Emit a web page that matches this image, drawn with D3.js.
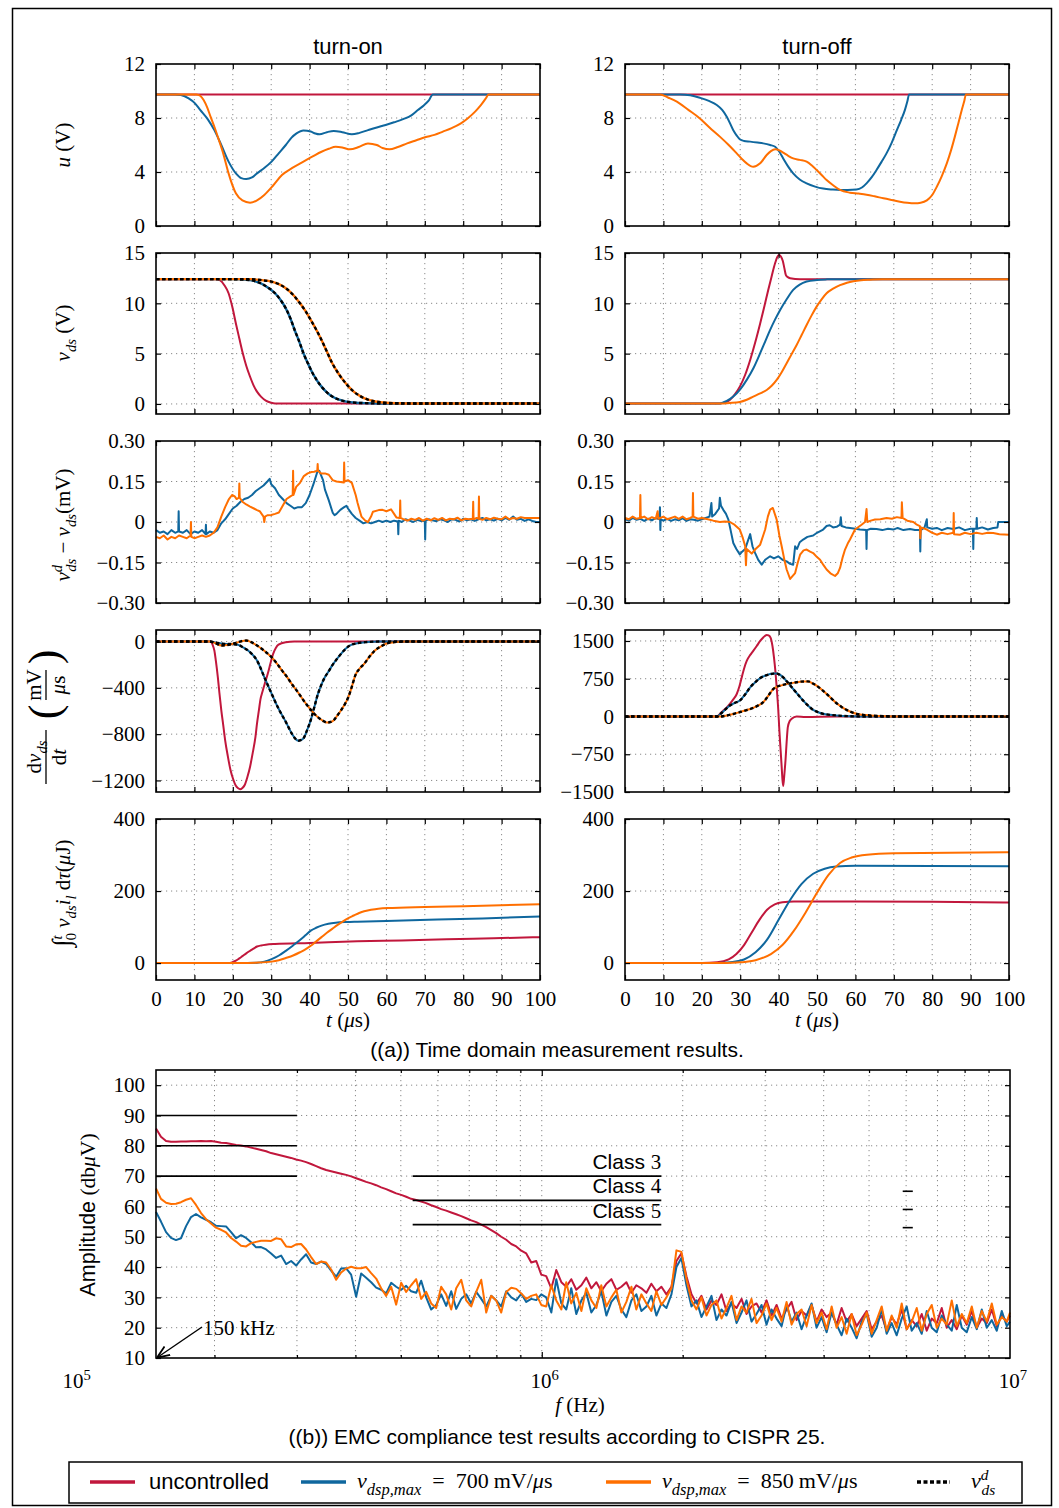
<!DOCTYPE html>
<html>
<head>
<meta charset="utf-8">
<script src="https://cdn.jsdelivr.net/npm/d3@7"></script>
<style>
  body { margin: 0; background: #fff; }
  .grid { stroke: #8a8a8a; stroke-width: 1; stroke-dasharray: 1.2,3.8; }
</style>
</head>
<body>
<div id="viz"></div>
<script>
// size of the page
const width = 1059;
const height = 1508;

const serif = '"Liberation Serif","DejaVu Serif",serif';
const sans = '"Liberation Sans","DejaVu Sans",Arial,sans-serif';
const red = "#c1173c", blue = "#0f679e", orange = "#ff6f00";

// ---------------- data ----------------
// time axis ticks (µs)
const tTicks = [0, 10, 20, 30, 40, 50, 60, 70, 80, 90, 100];

// row 1: gate voltage u (V)
const uOnRed = [[0,9.75],[100,9.75]];
const uOnBlue = [[0,9.75],[5,9.75],[6.5,9.7],[8.5,9.45],[10.1,9.1],[11.5,8.6],[13.5,7.9],[15.2,7.1],[17,6.0],[18.9,4.77],[20.8,3.9],[22.2,3.55],[23.5,3.48],[25,3.6],[26.3,3.9],[28.2,4.3],[30.1,4.77],[32,5.4],[33.8,6.0],[35.3,6.55],[36.6,6.86],[38.4,7.08],[40.3,7.0],[41.5,6.85],[42.6,6.79],[44.5,6.95],[46.3,7.04],[48.5,6.95],[51,6.79],[53,6.9],[55.2,7.1],[57.5,7.3],[59.8,7.48],[62,7.68],[64.5,7.93],[66.5,8.2],[68.2,8.59],[69.8,8.95],[71,9.28],[72.1,9.75],[100,9.75]];
const uOnOrange = [[0,9.75],[10.5,9.75],[11.5,9.65],[12.4,9.33],[13.3,8.8],[14.2,8.1],[15.2,7.35],[16.1,6.6],[17.5,5.38],[18.9,3.9],[20.8,2.42],[22.5,1.9],[24.5,1.73],[26.3,1.9],[28.2,2.3],[30.5,3.0],[32.8,3.78],[35.5,4.3],[38.4,4.77],[40.8,5.15],[43.1,5.5],[45,5.72],[46.8,5.87],[48.7,5.8],[50.5,5.68],[52.8,5.85],[55.2,6.12],[57.5,6.0],[59,5.78],[60.8,5.68],[63,5.85],[65.4,6.12],[67.8,6.35],[70.1,6.57],[72.5,6.75],[74.7,6.99],[77,7.25],[79.4,7.6],[81.3,8.0],[83.1,8.47],[84.6,8.95],[85.9,9.46],[86.6,9.75],[100,9.75]];
const uOffRed = [[0,9.75],[100,9.75]];
const uOffBlue = [[0,9.75],[14.3,9.75],[17,9.68],[19.5,9.5],[22,9.25],[23.9,8.96],[25.3,8.6],[26.5,8.1],[28.2,7.1],[29.1,6.7],[29.9,6.42],[31,6.3],[32.6,6.25],[34.5,6.18],[36,6.12],[37.8,6.0],[39.1,5.87],[40.2,5.5],[41.2,5.0],[42.5,4.4],[43.8,3.9],[45.5,3.45],[47.3,3.16],[49.5,2.92],[51.6,2.77],[54,2.7],[56,2.67],[58,2.67],[60.3,2.7],[61.7,2.85],[62.9,3.16],[64.2,3.6],[65.5,4.15],[66.8,4.75],[68.1,5.38],[69.5,6.2],[70.8,7.1],[71.9,7.85],[72.9,8.6],[73.5,9.2],[74,9.75],[100,9.75]];
const uOffOrange = [[0,9.75],[9.1,9.75],[11.3,9.5],[13.5,9.21],[16.5,8.6],[19.5,7.97],[22,7.3],[24.7,6.62],[27,6.0],[29.1,5.38],[30.5,4.95],[31.7,4.64],[33.4,4.39],[35.2,4.64],[36.9,5.26],[38,5.55],[39.1,5.68],[40.2,5.6],[41.2,5.43],[42.5,5.2],[43.8,5.01],[45.5,4.9],[47.3,4.77],[48.6,4.5],[49.9,4.15],[51.2,3.78],[52.5,3.4],[54.3,3.0],[56,2.67],[58.6,2.47],[60.8,2.4],[62.9,2.32],[65,2.2],[67.3,2.05],[69.5,1.92],[71.6,1.8],[73.5,1.72],[75.5,1.68],[77,1.72],[78.6,1.9],[80,2.3],[81.2,2.91],[82.5,3.7],[83.8,4.64],[84.9,5.6],[85.9,6.62],[86.8,7.6],[87.7,8.6],[88.3,9.2],[88.8,9.75],[100,9.75]];

// row 2: v_ds (V)
const vdsOnRed = [[0,12.4],[15.5,12.4],[16.6,12.3],[17.8,11.8],[18.9,11.0],[19.9,9.6],[20.8,8.0],[21.7,6.5],[22.6,5.04],[23.5,3.8],[24.5,2.7],[25.4,1.85],[26.3,1.22],[27.4,0.7],[28.6,0.33],[30,0.12],[31,0.05],[100,0.05]];
const vdsOnBlue = [[0,12.4],[19,12.4],[24.5,12.3],[26.5,12.1],[28.2,11.8],[29.6,11.45],[31,11.0],[32.4,10.35],[33.8,9.5],[35,8.5],[36.1,7.35],[37.3,6.2],[38.4,5.04],[39.6,4.0],[40.8,3.05],[41.9,2.35],[43.1,1.72],[44.5,1.15],[45.9,0.73],[47.7,0.42],[49.6,0.23],[52,0.12],[54.2,0.08],[58,0.05],[100,0.05]];
const vdsOnOrange = [[0,12.4],[24.5,12.4],[27.5,12.3],[30.1,12.15],[32,11.9],[33.8,11.5],[35.7,10.85],[37.5,10.0],[38.9,9.25],[40.3,8.35],[41.7,7.4],[43.1,6.36],[44.5,5.2],[45.9,4.05],[47.3,3.15],[48.7,2.39],[50.1,1.75],[51.5,1.22],[53.3,0.75],[55.2,0.43],[57.5,0.22],[59.8,0.12],[63,0.07],[67,0.05],[100,0.05]];
const vdsOffRed = [[0,0.05],[24.7,0.05],[26,0.15],[27.3,0.4],[28.6,0.95],[29.9,1.72],[31.3,2.9],[32.6,4.37],[33.9,6.1],[35.2,8.0],[36.3,9.7],[37.3,11.33],[38.2,12.7],[39.1,14.0],[39.6,14.55],[40.1,14.8],[40.6,14.65],[41.1,14.2],[41.5,13.5],[41.9,12.8],[42.4,12.6],[43,12.5],[45.6,12.4],[100,12.4]];
const vdsOffBlue = [[0,0.05],[24.7,0.05],[26.5,0.3],[28.2,0.73],[30,1.45],[31.7,2.39],[33.5,3.6],[35.2,5.04],[36.5,6.2],[37.8,7.36],[39.1,8.4],[40.4,9.34],[42.1,10.4],[43.8,11.33],[45.5,11.85],[47.3,12.16],[50,12.32],[52.5,12.38],[55,12.4],[100,12.4]];
const vdsOffOrange = [[0,0.05],[24.7,0.05],[27.3,0.1],[29.9,0.2],[31.7,0.42],[33.4,0.73],[35.2,1.05],[36.9,1.39],[38.2,1.8],[39.5,2.39],[40.8,3.15],[42.1,4.05],[43.4,4.95],[44.7,5.86],[46,6.85],[47.3,7.85],[48.6,8.8],[49.9,9.67],[51.2,10.4],[52.5,11.0],[54.2,11.45],[56,11.8],[57.8,12.05],[59.5,12.2],[61.5,12.3],[63.8,12.35],[67,12.4],[100,12.4]];
// reference v^d_ds lies on top of the measured curves
const vdsOnRef700 = vdsOnBlue;
const vdsOnRef850 = vdsOnOrange;

// row 3: v^d_ds - v_ds (mV)
const diffOnBlue = [[0,-0.03],[1,-0.04],[2,-0.035],[3,-0.045],[4,-0.03],[5,-0.04],[5.8,-0.035],[5.9,0.04],[6,-0.035],[7,-0.04],[8,-0.03],[9,-0.045],[10,-0.035],[11,-0.04],[12,-0.03],[12.9,-0.045],[13,-0.01],[13.1,-0.045],[14,-0.035],[15,-0.04],[16,-0.03],[17,-0.005],[18,0.01],[19,0.03],[20,0.05],[21,0.06],[22,0.075],[23,0.085],[24,0.09],[25,0.1],[26,0.115],[27,0.125],[28,0.135],[29,0.15],[29.6,0.16],[30,0.14],[31,0.125],[32,0.1],[33,0.085],[34,0.07],[35,0.06],[36,0.05],[37,0.055],[38,0.055],[39,0.07],[40,0.1],[41,0.14],[42,0.185],[42.5,0.19],[43.5,0.155],[44,0.12],[45,0.08],[46,0.035],[46.5,0.025],[47,0.03],[48,0.045],[49,0.055],[49.6,0.06],[50,0.05],[51,0.03],[52,0.015],[53,0.005],[54,-0.005],[55,0],[56,-0.005],[57,0],[58,0.005],[59,0],[60,0.005],[61,0],[62,0.005],[63,0.002],[63.1,-0.045],[63.2,0.005],[64,0],[65,0.01],[66,0.005],[67,0],[68,0.008],[69,0.004],[70,0.005],[70.1,-0.065],[70.2,0.005],[71,0.01],[72,0.006],[73,0.003],[74,0.01],[75,0.006],[76,0],[77,0.01],[78,0.008],[79,0.002],[80,0.012],[81,0.006],[82,0.01],[83,0.004],[84,0.01],[85,0.015],[86,0.006],[87,0.01],[88,0.005],[89,0.012],[90,0.006],[91,0.015],[92,0.008],[93,0.02],[94,0.008],[95,0.012],[96,0.004],[97,0.01],[98,0.004],[99,0],[100,0]];
const diffOnOrange = [[0,-0.055],[1,-0.06],[2,-0.05],[3,-0.065],[4,-0.055],[5,-0.06],[6,-0.05],[7,-0.055],[8,-0.06],[9,-0.05],[9.1,0],[9.2,-0.055],[10,-0.06],[11,-0.055],[12,-0.05],[13,-0.055],[14,-0.05],[15,-0.04],[16,-0.02],[17,0.02],[18,0.055],[19,0.085],[19.8,0.1],[20.5,0.095],[21,0.085],[21.6,0.09],[21.7,0.143],[21.8,0.09],[22.5,0.075],[23.5,0.065],[24.5,0.057],[25.5,0.05],[26.3,0.044],[27,0.04],[28,0.02],[28.2,0],[28.4,0.02],[29,0.025],[30,0.026],[31,0.03],[32,0.035],[33,0.06],[34,0.085],[35,0.095],[35.6,0.1],[35.7,0.19],[35.8,0.1],[36.5,0.13],[37.5,0.145],[38.5,0.17],[39.5,0.18],[40.5,0.185],[41.2,0.186],[42,0.19],[42.1,0.215],[42.2,0.19],[43,0.18],[44,0.18],[45,0.175],[46,0.155],[47,0.15],[48,0.148],[48.9,0.146],[49,0.22],[49.1,0.15],[50,0.155],[51,0.145],[52,0.1],[52.5,0.07],[53.5,0.02],[54.5,0.005],[55.2,0],[56,0.02],[56.5,0.038],[58,0.044],[59,0.045],[60,0.04],[61.2,0.047],[62,0.03],[62.6,0.017],[63.5,0.015],[63.6,0.08],[63.7,0.015],[64.5,0.01],[65.5,0.005],[66.5,0.012],[67.5,0.008],[68.5,0.015],[69.5,0.005],[70.5,0.012],[71.5,0.006],[72.5,0.014],[73.5,0.008],[74.5,0.015],[75.5,0.006],[76.5,0.012],[77.5,0.01],[78.5,0.016],[79.5,0.006],[80.5,0.012],[81.5,0.01],[82.5,0.012],[82.6,0.075],[82.7,0.01],[83.5,0.015],[84,0.012],[84.1,0.094],[84.2,0.012],[85,0.008],[86,0.015],[87,0.01],[88,0.016],[89,0.012],[90,0.01],[91,0.02],[92,0.01],[93,0.015],[94,0.012],[95,0.018],[96,0.015],[97,0.015],[98,0.015],[100,0.015]];
const diffOffBlue = [[0,0.01],[1,0.005],[2,0.015],[3,0.008],[4,0.012],[5,0.004],[6,0.012],[7,0.006],[8,0.015],[9,0.01],[9.1,0.055],[9.2,-0.03],[9.3,0.01],[10,0.005],[11,0.012],[12,0.004],[13,0.01],[14,0.006],[15,0.014],[16,0.004],[17,0.01],[18,0.008],[19,0.005],[20,0.01],[21,0.015],[22,0.02],[22.5,0.07],[22.7,0.02],[23.5,0.03],[24.5,0.05],[24.7,0.09],[25,0.06],[25.6,0.045],[26.3,0.03],[26.9,0.01],[27.5,-0.03],[28.2,-0.078],[29,-0.1],[29.9,-0.12],[30.5,-0.11],[31.3,-0.1],[32,-0.07],[32.6,-0.045],[33.2,-0.09],[33.9,-0.115],[34.7,-0.14],[35.6,-0.158],[36.5,-0.14],[37.8,-0.127],[38.8,-0.135],[39.9,-0.127],[41,-0.14],[42.1,-0.146],[43,-0.155],[43.8,-0.158],[44.3,-0.09],[44.8,-0.1],[45.5,-0.075],[46.4,-0.065],[47.5,-0.055],[49,-0.05],[50,-0.04],[51.6,-0.028],[52.5,-0.015],[53.3,-0.012],[54.2,-0.02],[55.1,-0.018],[56,-0.01],[56.2,0.018],[56.4,-0.015],[57.5,-0.02],[58.6,-0.022],[60,-0.025],[61.2,-0.028],[62.8,-0.03],[62.9,-0.1],[63,-0.03],[64,-0.025],[65.5,-0.026],[67,-0.03],[68.5,-0.025],[69.9,-0.028],[71,-0.022],[72.5,-0.03],[74.2,-0.026],[75.5,-0.03],[76.8,-0.03],[76.9,-0.109],[77,-0.03],[78,-0.02],[78.6,0.01],[78.7,-0.02],[80,-0.025],[81.2,-0.022],[82.5,-0.03],[84,-0.022],[85.5,-0.026],[87,-0.02],[88.5,-0.03],[90,-0.025],[90.6,-0.025],[90.7,-0.1],[90.8,-0.025],[91.5,-0.025],[91.6,0.015],[91.7,-0.025],[93,-0.02],[94.5,-0.028],[95.9,-0.022],[97,-0.02],[97.2,0],[100,0]];
const diffOffOrange = [[0,0.015],[1,0.01],[2,0.02],[3,0.012],[3.9,0.015],[4,0.1],[4.1,0.015],[5,0.02],[6,0.01],[7,0.018],[8,0.012],[8.5,0.04],[8.7,0.012],[10,0.02],[11,0.01],[12,0.015],[13,0.02],[14,0.012],[15,0.02],[16,0.01],[17,0.015],[17.6,0.02],[17.7,0.107],[17.8,0.02],[19,0.012],[20,0.015],[21.3,0.011],[23,0.005],[24.7,0],[26,0.002],[27.3,0],[28.5,-0.01],[29.9,-0.028],[30.7,-0.06],[31.3,-0.09],[31.5,-0.16],[31.7,-0.1],[33,-0.117],[34,-0.1],[35.2,-0.084],[36.5,-0.028],[37.2,0.02],[37.8,0.046],[38.5,0.052],[39.5,0.009],[40.2,-0.05],[40.8,-0.09],[41.5,-0.14],[42.1,-0.176],[43,-0.211],[44.3,-0.189],[45,-0.15],[45.6,-0.121],[46.5,-0.105],[47.3,-0.102],[48.2,-0.11],[49,-0.115],[50,-0.13],[50.8,-0.14],[51.7,-0.16],[52.5,-0.176],[53.5,-0.19],[54.7,-0.2],[55.4,-0.19],[56,-0.17],[56.7,-0.13],[57.3,-0.102],[58,-0.08],[58.6,-0.065],[59.9,-0.028],[61.6,-0.01],[62.5,0],[62.9,0.048],[63.1,0],[64,0.005],[65.1,0.009],[66.5,0.01],[68.1,0.015],[69.5,0.012],[70.8,0.018],[72,0.015],[72.1,0.073],[72.3,0.015],[73.5,0.005],[75.1,0],[76,-0.01],[76.8,-0.015],[76.9,-0.06],[77.1,-0.02],[78.6,-0.028],[80,-0.04],[81.2,-0.047],[82.5,-0.04],[84,-0.045],[85.5,-0.04],[85.6,0.033],[85.7,-0.045],[87.2,-0.047],[88.5,-0.04],[90,-0.045],[91.5,-0.04],[93,-0.044],[94.5,-0.04],[95.9,-0.041],[97.5,-0.045],[100,-0.047]];

// row 4: dv_ds/dt (mV/µs)
const dvOnRed = [[0,0],[14.2,0],[14.7,-25],[15.2,-77],[15.6,-170],[16.1,-307],[16.5,-440],[17,-593],[17.5,-720],[18,-851],[18.7,-990],[19.4,-1110],[20.1,-1190],[20.8,-1247],[21.4,-1268],[21.9,-1276],[22.5,-1265],[23.1,-1239],[23.8,-1170],[24.5,-1081],[25.2,-960],[25.9,-823],[26.3,-710],[26.8,-593],[27.2,-500],[27.7,-436],[28.4,-355],[29.1,-278],[29.8,-190],[30.5,-106],[31.2,-55],[31.9,-26],[33.8,-6],[36,0],[100,0]];
const dvOnBlue = [[0,0],[14,0],[16,-12],[18,-20],[20,-22],[21.5,-30],[22.6,-49],[24.5,-92],[26.3,-163],[28.2,-307],[30.1,-450],[31.9,-579],[33.8,-694],[35.6,-808],[36.3,-840],[37,-857],[37.7,-852],[38.4,-837],[39.3,-770],[40.3,-679],[41.2,-570],[42.2,-450],[43.1,-370],[44,-307],[45,-255],[45.9,-206],[47,-155],[48.2,-106],[49.3,-65],[50.5,-34],[52.4,-14],[55,-4],[58,0],[100,0]];
const dvOnOrange = [[0,0],[14,0],[15.5,-15],[17,-34],[18.5,-30],[20.8,-12],[22.5,5],[23.5,9],[24.8,-5],[26.3,-34],[28.2,-80],[30.1,-135],[31.5,-190],[32.8,-249],[34.2,-310],[35.6,-378],[37,-440],[38.4,-507],[39.6,-560],[40.8,-608],[41.7,-640],[42.6,-665],[43.5,-685],[44.5,-700],[45.4,-695],[46.3,-679],[47.2,-640],[48.2,-593],[49.2,-540],[50.1,-479],[51,-390],[51.9,-292],[53,-235],[54.2,-192],[55.6,-130],[57,-77],[58.4,-45],[59.8,-20],[62.6,-3],[65,0],[100,0]];
const dvOffRed = [[0,0],[23.9,0],[24.7,50],[25.6,118],[26.5,180],[27.3,250],[28.2,340],[29.1,447],[29.8,600],[30.4,776],[31,950],[31.7,1105],[32.5,1210],[33.4,1303],[34.3,1400],[35.2,1500],[36,1570],[36.9,1619],[37.4,1610],[37.9,1566],[38.4,1400],[38.8,1171],[39.2,870],[39.5,579],[39.9,150],[40.2,-276],[40.5,-640],[40.8,-1000],[41,-1250],[41.2,-1382],[41.5,-1150],[41.8,-869],[42.1,-500],[42.4,-210],[42.9,-90],[43.4,-46],[44.7,0],[47,-8],[55,0],[100,0]];
const dvOffBlue = [[0,0],[24,0],[24.7,40],[26,130],[27.3,217],[28.6,270],[29.9,316],[31.3,440],[32.6,579],[33.9,680],[35.2,763],[36.5,810],[37.8,842],[38.7,852],[39.5,855],[40.4,825],[41.2,776],[42.5,665],[43.8,546],[45.1,430],[46.4,316],[47.7,215],[49,132],[50.3,85],[51.6,53],[53.3,33],[55.1,20],[58.6,5],[62,0],[100,0]];
const dvOffOrange = [[0,0],[25,0],[26.5,20],[28.2,50],[29.9,86],[31.7,128],[33.4,171],[34.7,220],[36,283],[37.3,410],[38.6,546],[39.5,590],[40.4,612],[41.7,638],[43,658],[44.3,675],[45.6,691],[46.6,696],[47.7,697],[48.8,660],[49.9,612],[51.2,535],[52.5,447],[53.8,355],[55.1,263],[56.4,190],[57.7,132],[59,85],[60.3,53],[62,33],[63.8,20],[66,10],[68.1,5],[72,0],[100,0]];

// row 5: switching energy (µJ)
const eOnRed = [[0,0],[18.9,0],[19.8,2],[20.8,6.5],[21.7,13],[22.6,20],[23.5,27],[24.5,34],[25.4,40],[26.3,46],[27.4,49],[28.6,51],[31,53],[40,56],[52.4,60.5],[64,63],[75.7,66],[88,69],[100,72]];
const eOnBlue = [[0,0],[20,0],[23,0.3],[26.3,1],[28.2,4],[30.1,11],[32,21],[33.8,34],[35.7,49],[37.5,64],[38.9,77],[40.3,90],[41.7,98],[43.1,104],[44.9,109],[46.8,112],[49.6,114],[52.4,115],[60,117],[71,120],[85,124],[100,129]];
const eOnOrange = [[0,0],[22,0],[26,1],[30.1,4],[32,8],[33.8,14],[35.7,21],[37.5,30],[38.9,38],[40.3,48],[41.7,60],[43.1,72],[44.5,84],[45.9,95],[47.3,106],[48.7,116],[50.1,125],[51.5,132],[52.9,139],[54.2,144],[56,148],[57.9,151],[61.6,153],[70,156],[80.3,158],[100,163]];
const eOffRed = [[0,0],[20,0],[24,2],[27,10],[29,25],[31,50],[33,85],[35,120],[37,148],[39,163],[41,169],[44,171],[60,171],[80,170],[100,168]];
const eOffBlue = [[0,0],[24,0],[28,3],[31,10],[34,30],[37,65],[40,120],[43,175],[46,220],[49,248],[52,262],[55,268],[60,270],[100,269]];
const eOffOrange = [[0,0],[26,0],[30,2],[34,8],[38,25],[41,50],[44,90],[47,140],[50,195],[53,245],[56,278],[59,293],[63,301],[70,305],[100,308]];

// EMC spectrum: frequency (kHz) and amplitudes (dBµV)
const emcFreq = [150,153.7,157.6,161.5,165.5,169.6,173.9,178.2,182.6,187.2,191.9,196.6,201.5,206.6,211.7,217.0,222.4,227.9,233.6,239.4,245.4,251.5,257.8,264.2,270.8,277.5,284.4,291.5,298.8,306.2,313.8,321.6,329.7,337.9,346.3,354.9,363.8,372.8,382.1,391.6,401.4,411.4,421.6,432.1,442.9,453.9,465.2,476.8,488.7,500.9,513.3,526.1,539.2,552.7,566.4,580.5,595.0,609.8,625.0,640.6,656.5,672.9,689.6,706.8,724.4,742.5,761.0,779.9,799.3,819.2,839.6,860.6,882.0,904.0,926.5,949.6,973.2,997.5,1022,1048,1074,1101,1128,1156,1185,1215,1245,1276,1308,1340,1374,1408,1443,1479,1516,1554,1592,1632,1673,1714,1757,1801,1846,1892,1939,1987,2037,2088,2140,2193,2248,2304,2361,2420,2480,2542,2606,2671,2737,2805,2875,2947,3020,3096,3173,3252,3333,3416,3501,3588,3678,3769,3863,3960,4058,4160,4263,4369,4478,4590,4704,4822,4942,5065,5191,5321,5453,5589,5728,5871,6017,6167,6321,6478,6640,6805,6975,7148,7326,7509,7696,7888,8084,8286,8492,8704,8920,9143,9370,9604,9843,10000];
const emcRed = [85.7,83,81.6,81.3,81.3,81.4,81.4,81.5,81.5,81.6,81.5,81.6,81.3,81,80.9,80.6,80.3,80.1,79.8,79.4,79,78.6,78.2,77.6,77.2,76.8,76.4,76,75.5,75.1,74.6,74,73.3,72.6,72,71.6,71.2,70.8,70.4,69.9,69.3,68.7,68.1,67.6,67,66.3,65.7,65,64.3,63.8,63.2,62.5,62.1,61.6,61.1,60.4,59.8,59.1,58.6,58,57.4,56.8,56.1,55.4,54.8,54,53.2,52.2,51.2,50,49,47.6,46.8,45.4,44.5,41.5,42,37.5,
  37,33,39,35,33.5,36,32.5,34,36.5,33,35,32,34.5,36,32.5,33.5,35,31.5,34,33,31.5,34.5,32,33.5,31,33.5,
  42,44.5,37,31,
  28,30.5,26,29,27.5,31,25.5,28,26.5,29.5,24.5,27,28,25,29,24,27.5,23,26,28.5,22.5,25.5,24,27.5,22,26,23.5,25,21,26.5,22,24.5,20.5,23,25.5,19.5,22,24,19,23.5,21,26,19.5,22.5,20.5,24.5,19,23,21.5,26.5,20,22.5,19.5,24,21,25.5,20,23,21.5,26,20.5,24,22,24];
const emcBlue = [58.2,55,51.5,49.6,48.9,49.5,53.5,56.5,57.5,56.4,55.6,54.8,53.6,53.5,53.4,51.5,49.5,50.5,49.6,48.2,46.5,46.6,45.8,44.5,43,43.8,41,42,40.5,42.5,44.2,41.5,41,41.8,41,38.8,36.8,39.5,39.6,37.5,30.2,37.9,36.5,35,33.2,32.5,31.3,34.8,33.5,32.5,33.8,32,31.5,35.5,30,26,27.5,31,27.2,32,26.2,29.5,31,28,31.8,29.5,27,30.5,29,27,32,30,29,31.2,28.5,29.5,29.1,31,
  30,25,36,28,26,33,24.5,29,31.5,25,27.5,32,24,28.5,30.5,26,23.5,29,31,25.5,27,30.5,24,28,26.5,31,
  40,43,34,27,
  29,23.5,27,30.5,22.5,26,24,28.5,21.5,25,29,22,24.5,27.5,21,26,23,20.5,27.5,22,25,19.5,24,28,20,23.5,18.5,25,21,17.5,23,20,16.5,22,24.5,17,20,26,18,21.5,17.5,23,27,19,21.5,18,25.5,20,18.5,24,21,19,27.5,20,18.5,23.5,19.5,26,20,22.5,19,25.5,20.5,22];
const emcOrange = [65.9,62.5,61.2,60.8,60.9,61.4,62.2,62.7,60.5,57.8,55.8,54.4,53,52.3,51.4,49.6,48.4,47,46.8,47.9,48.3,48.7,48.7,48.6,49.5,49.2,46.8,46.6,47.5,47.6,45.8,43.3,41,41.8,41.5,39.2,35.8,38.2,39.5,40.1,39.6,39.6,40,38,36.2,33,30.5,33.5,27.6,34.8,31.8,34,36,29.5,31.8,28,26.5,33.5,31,26,33,35.8,29,27,31.8,35.8,25,30.5,29,25,31.8,33.2,32.8,31.3,29.5,30.5,31,27.5,
  27,34,29,26,35,28,31.5,25.5,33,29,26.5,34,27,30,32.5,25,28.5,33.5,26,31,28,25.5,32,27.5,30,33,
  45.5,45,36,29,
  26,30,24,27.5,29,23,26.5,30.5,22.5,27,25,29.5,21.5,24,28,22.5,26.5,22,28.5,21,24.5,26,20.5,27.5,21.5,25,19.5,27,20,23.5,18,24.5,17.5,21,25,18,22.5,27,19,24,20,28,19.5,22,26.5,19,24.5,27.5,20,23,21,29,20.5,24.5,21.5,27,20,25.5,22,28,21,23.5,22,25];

const emcYTicks = [10, 20, 30, 40, 50, 60, 70, 80, 90, 100];
const emcMinor = [2e5, 3e5, 4e5, 5e5, 6e5, 7e5, 8e5, 9e5, 2e6, 3e6, 4e6, 5e6, 6e6, 7e6, 8e6, 9e6];
// CISPR 25 limit lines (dBµV)
const limLow = [90, 80, 70];          // 150 kHz .. 300 kHz
const limMid = [70, 62, 54];          // 530 kHz .. 1.8 MHz
const limMidNames = ["3", "4", "5"];
const limSW = [65, 59, 53];           // 5.9 MHz .. 6.2 MHz

// ---------------- drawing ----------------
const svg = d3.select("#viz").append("svg")
    .attr("width", width)
    .attr("height", height);

svg.append("rect").attr("width", width).attr("height", height).attr("fill", "#fff");
svg.append("rect").attr("x", 12.5).attr("y", 8.5).attr("width", 1039).attr("height", 1497)
    .attr("fill", "none").attr("stroke", "#000").attr("stroke-width", 1.5);

svg.append("defs").append("marker")
    .attr("id", "arrow").attr("viewBox", "0 0 10 10").attr("refX", 9).attr("refY", 5)
    .attr("markerWidth", 9).attr("markerHeight", 9).attr("orient", "auto-start-reverse")
    .append("path").attr("d", "M0,1 L10,5 L0,9").attr("fill", "none").attr("stroke", "#000").attr("stroke-width", 1.4);

// text with italic / sub / sup pieces
function mtext(sel, parts, size) {
    let cur = 0;
    parts.forEach(p => {
        const off = p.sub ? size * 0.3 : p.sup ? -size * 0.38 : 0;
        const ts = sel.append("tspan").text(p.t);
        if (off !== cur) ts.attr("dy", off - cur);
        cur = off;
        if (p.sub || p.sup) ts.attr("font-size", size * (p.ss || 0.7));
        if (p.size) ts.attr("font-size", p.size);
        if (p.i) ts.attr("font-style", "italic");
        if (p.dx) ts.attr("dx", p.dx);
        if (p.f) ts.attr("font-family", p.f);
    });
    return sel;
}

function label(x, y, parts, opts) {
    opts = opts || {};
    const size = opts.size || 21;
    const t = svg.append("text")
        .attr("transform", `translate(${x},${y})` + (opts.rot ? " rotate(-90)" : ""))
        .attr("text-anchor", opts.anchor || "middle")
        .attr("font-family", opts.font || serif)
        .attr("font-size", size);
    return mtext(t, parts, size);
}

const rows = [
    {top: 64, bottom: 226},
    {top: 253, bottom: 414},
    {top: 441, bottom: 603},
    {top: 630, bottom: 792},
    {top: 819, bottom: 980}
];
const colOn = [156, 540], colOff = [625, 1009];

const fmtInt = d3.format("d");
const fmtDiff = d => d === 0 ? "0" : d3.format(".2f")(d);

function styleAxis(g) {
    g.select(".domain").remove();
    g.attr("font-family", serif).attr("font-size", 21);
    g.selectAll(".tick line").attr("stroke", "#000").attr("stroke-width", 1.2);
    g.selectAll(".tick text").attr("fill", "#000");
}

function panel(cfg) {
    const [x0, x1] = cfg.xr;
    const {top, bottom} = cfg.row;
    const x = d3.scaleLinear().domain([0, 100]).range([x0, x1]);
    const y = d3.scaleLinear().domain(cfg.domain).range([bottom, top]);
    const g = svg.append("g");

    // dotted grid
    g.append("g").selectAll("line").data(tTicks.slice(1, -1)).join("line")
        .attr("class", "grid")
        .attr("x1", d => x(d)).attr("x2", d => x(d)).attr("y1", top).attr("y2", bottom);
    g.append("g").selectAll("line").data(cfg.ticks.filter(d => y(d) > top + 2 && y(d) < bottom - 2)).join("line")
        .attr("class", "grid")
        .attr("x1", x0).attr("x2", x1).attr("y1", d => y(d)).attr("y2", d => y(d));

    cfg.series.forEach(s => {
        const line = d3.line()
            .x(d => x(d[0])).y(d => y(d[1]))
            .curve(s.noisy ? d3.curveLinear : d3.curveMonotoneX);
        g.append("path").datum(s.data)
            .attr("fill", "none")
            .attr("stroke", s.color)
            .attr("stroke-width", s.w || 2)
            .attr("stroke-linejoin", "round")
            .attr("stroke-dasharray", s.dash || null)
            .attr("d", line);
    });

    g.append("g").attr("transform", `translate(0,${bottom})`)
        .call(d3.axisBottom(x).tickValues(tTicks).tickSize(-5).tickPadding(11).tickFormat(cfg.xLabels ? fmtInt : ""))
        .call(styleAxis);
    g.append("g").attr("transform", `translate(0,${top})`)
        .call(d3.axisTop(x).tickValues(tTicks).tickSize(-5).tickFormat(""))
        .call(styleAxis);
    g.append("g").attr("transform", `translate(${x0},0)`)
        .call(d3.axisLeft(y).tickValues(cfg.ticks).tickSize(-5).tickPadding(11).tickFormat(cfg.fmt || fmtInt))
        .call(styleAxis);
    g.append("g").attr("transform", `translate(${x1},0)`)
        .call(d3.axisRight(y).tickValues(cfg.ticks).tickSize(-5).tickFormat(""))
        .call(styleAxis);

    g.append("rect").attr("x", x0).attr("y", top).attr("width", x1 - x0).attr("height", bottom - top)
        .attr("fill", "none").attr("stroke", "#000").attr("stroke-width", 1.6);
}

const dotted = "3.5,2.5";

// row 1
panel({xr: colOn, row: rows[0], domain: [0, 12], ticks: [0, 4, 8, 12],
    series: [{data: uOnRed, color: red}, {data: uOnBlue, color: blue}, {data: uOnOrange, color: orange}]});
panel({xr: colOff, row: rows[0], domain: [0, 12], ticks: [0, 4, 8, 12],
    series: [{data: uOffRed, color: red}, {data: uOffBlue, color: blue}, {data: uOffOrange, color: orange}]});
// row 2
panel({xr: colOn, row: rows[1], domain: [-1, 15], ticks: [0, 5, 10, 15],
    series: [{data: vdsOnRed, color: red}, {data: vdsOnBlue, color: blue, w: 2.4}, {data: vdsOnOrange, color: orange, w: 2.4},
        {data: vdsOnRef700, color: "#000", dash: dotted, w: 2.4}, {data: vdsOnRef850, color: "#000", dash: dotted, w: 2.4}]});
panel({xr: colOff, row: rows[1], domain: [-1, 15], ticks: [0, 5, 10, 15],
    series: [{data: vdsOffRed, color: red}, {data: vdsOffBlue, color: blue}, {data: vdsOffOrange, color: orange}]});
// row 3
panel({xr: colOn, row: rows[2], domain: [-0.3, 0.3], ticks: [-0.3, -0.15, 0, 0.15, 0.3], fmt: fmtDiff,
    series: [{data: diffOnBlue, color: blue, noisy: true}, {data: diffOnOrange, color: orange, noisy: true}]});
panel({xr: colOff, row: rows[2], domain: [-0.3, 0.3], ticks: [-0.3, -0.15, 0, 0.15, 0.3], fmt: fmtDiff,
    series: [{data: diffOffBlue, color: blue, noisy: true}, {data: diffOffOrange, color: orange, noisy: true}]});
// row 4
panel({xr: colOn, row: rows[3], domain: [-1300, 100], ticks: [-1200, -800, -400, 0],
    series: [{data: dvOnRed, color: red}, {data: dvOnBlue, color: blue}, {data: dvOnOrange, color: orange},
        {data: dvOnBlue, color: "#000", dash: dotted, w: 2.4}, {data: dvOnOrange, color: "#000", dash: dotted, w: 2.4}]});
panel({xr: colOff, row: rows[3], domain: [-1500, 1718], ticks: [-1500, -750, 0, 750, 1500],
    series: [{data: dvOffRed, color: red}, {data: dvOffBlue, color: blue}, {data: dvOffOrange, color: orange},
        {data: dvOffBlue, color: "#000", dash: dotted, w: 2.4}, {data: dvOffOrange, color: "#000", dash: dotted, w: 2.4}]});
// row 5
panel({xr: colOn, row: rows[4], domain: [-47, 400], ticks: [0, 200, 400], xLabels: true,
    series: [{data: eOnRed, color: red}, {data: eOnBlue, color: blue}, {data: eOnOrange, color: orange}]});
panel({xr: colOff, row: rows[4], domain: [-47, 400], ticks: [0, 200, 400], xLabels: true,
    series: [{data: eOffRed, color: red}, {data: eOffBlue, color: blue}, {data: eOffOrange, color: orange}]});

// column titles
label(348, 54, [{t: "turn-on"}], {font: sans, size: 22});
label(817, 54, [{t: "turn-off"}], {font: sans, size: 22});

// x labels
[348, 817].forEach(cx => label(cx, 1027, [{t: "t", i: 1}, {t: " ("}, {t: "μ", i: 1}, {t: "s)"}]));
label(557, 1057, [{t: "((a)) Time domain measurement results."}], {font: sans, size: 21});

// y labels
label(70, 145, [{t: "u", i: 1}, {t: " (V)"}], {rot: true});
label(70, 333, [{t: "v", i: 1}, {t: "ds", i: 1, sub: 1}, {t: " (V)"}], {rot: true});
label(70, 525, [{t: "v", i: 1}, {t: "d", i: 1, sup: 1}, {t: "ds", i: 1, sub: 1, dx: -7}, {t: " − "}, {t: "v", i: 1}, {t: "ds", i: 1, sub: 1}, {t: "(mV)"}], {rot: true});
label(70, 893, [{t: "∫", size: 26}, {t: "t", i: 1, sup: 1}, {t: "0", sub: 1, dx: -5}, {t: " v", i: 1}, {t: "ds", i: 1, sub: 1}, {t: "i", i: 1}, {t: "l", i: 1, sub: 1}, {t: " d"}, {t: "τ", i: 1}, {t: "("}, {t: "μ", i: 1}, {t: "J)"}], {rot: true});

// dv/dt label: fraction and bracketed unit fraction
const dl = svg.append("g").attr("transform", "translate(46,716) rotate(-90)")
    .attr("font-family", serif).attr("font-size", 21).attr("text-anchor", "middle");
mtext(dl.append("text").attr("x", -41).attr("y", -5), [{t: "d"}, {t: "v", i: 1}, {t: "ds", i: 1, sub: 1}], 21);
dl.append("line").attr("x1", -68).attr("x2", -14).attr("y1", 0).attr("y2", 0).attr("stroke", "#000").attr("stroke-width", 1.3);
mtext(dl.append("text").attr("x", -41).attr("y", 20), [{t: "d"}, {t: "t", i: 1}], 21);
dl.append("text").attr("x", 4).attr("y", 13).attr("font-size", 44).text("(");
mtext(dl.append("text").attr("x", 31).attr("y", -5), [{t: "mV"}], 21);
dl.append("line").attr("x1", 16).attr("x2", 46).attr("y1", 0).attr("y2", 0).attr("stroke", "#000").attr("stroke-width", 1.3);
mtext(dl.append("text").attr("x", 31).attr("y", 19), [{t: "μ", i: 1}, {t: "s"}], 21);
dl.append("text").attr("x", 59).attr("y", 13).attr("font-size", 44).text(")");

// ---------------- EMC spectrum ----------------
const ex0 = 156, ex1 = 1010, eTop = 1070, eBottom = 1358;
const fx = d3.scaleLog().domain([150e3, 1e7]).range([ex0, ex1]);
const fy = d3.scaleLinear().domain([10, 105]).range([eBottom, eTop]);
const eg = svg.append("g");

eg.append("g").selectAll("line").data(emcMinor.concat([1e6])).join("line")
    .attr("class", "grid")
    .attr("x1", d => fx(d)).attr("x2", d => fx(d)).attr("y1", eTop).attr("y2", eBottom);
eg.append("g").selectAll("line").data(emcYTicks.slice(1)).join("line")
    .attr("class", "grid")
    .attr("x1", ex0).attr("x2", ex1).attr("y1", d => fy(d)).attr("y2", d => fy(d));

const emcLine = d3.line().x((d, i) => fx(emcFreq[i] * 1000)).y(d => fy(d));
[[emcRed, red], [emcBlue, blue], [emcOrange, orange]].forEach(([vals, c]) => {
    eg.append("path").datum(vals.slice(0, emcFreq.length))
        .attr("fill", "none").attr("stroke", c).attr("stroke-width", 2).attr("stroke-linejoin", "round")
        .attr("d", emcLine);
});

// limit lines
eg.selectAll(".limLow").data(limLow).join("line")
    .attr("x1", fx(150e3)).attr("x2", fx(300e3)).attr("y1", d => fy(d)).attr("y2", d => fy(d))
    .attr("stroke", "#000").attr("stroke-width", 1.6);
eg.selectAll(".limMid").data(limMid).join("line")
    .attr("x1", fx(530e3)).attr("x2", fx(1.8e6)).attr("y1", d => fy(d)).attr("y2", d => fy(d))
    .attr("stroke", "#000").attr("stroke-width", 1.6);
eg.selectAll(".limSW").data(limSW).join("line")
    .attr("x1", fx(5.9e6)).attr("x2", fx(6.2e6)).attr("y1", d => fy(d)).attr("y2", d => fy(d))
    .attr("stroke", "#000").attr("stroke-width", 1.6);
limMid.forEach((v, i) => {
    label(fx(1.8e6), fy(v) - 7, [{t: "Class ", f: sans}, {t: limMidNames[i]}], {anchor: "end", size: 21});
});

// axes
eg.append("g").attr("transform", `translate(${ex0},0)`)
    .call(d3.axisLeft(fy).tickValues(emcYTicks).tickSize(-5).tickPadding(11).tickFormat(fmtInt)).call(styleAxis);
eg.append("g").attr("transform", `translate(${ex1},0)`)
    .call(d3.axisRight(fy).tickValues(emcYTicks).tickSize(-5).tickFormat("")).call(styleAxis);
eg.append("g").attr("transform", `translate(0,${eBottom})`)
    .call(d3.axisBottom(fx).tickValues([1e6]).tickSize(-6).tickFormat("")).call(styleAxis);
eg.append("g").attr("transform", `translate(0,${eBottom})`)
    .call(d3.axisBottom(fx).tickValues(emcMinor).tickSize(-3).tickFormat("")).call(styleAxis);
eg.append("g").attr("transform", `translate(0,${eTop})`)
    .call(d3.axisTop(fx).tickValues([1e6]).tickSize(-6).tickFormat("")).call(styleAxis);
eg.append("g").attr("transform", `translate(0,${eTop})`)
    .call(d3.axisTop(fx).tickValues(emcMinor).tickSize(-3).tickFormat("")).call(styleAxis);
eg.append("rect").attr("x", ex0).attr("y", eTop).attr("width", ex1 - ex0).attr("height", eBottom - eTop)
    .attr("fill", "none").attr("stroke", "#000").attr("stroke-width", 1.6);

[[1e5, "5"], [1e6, "6"], [1e7, "7"]].forEach(([f, e]) => {
    label(fx(f) + 3, 1388, [{t: "10"}, {t: e, sup: 1}]);
});
label(580, 1412, [{t: "f", i: 1}, {t: " (Hz)"}]);
label(95, 1215, [{t: "Amplitude", f: sans}, {t: " (db"}, {t: "μ", i: 1}, {t: "V)"}], {rot: true, size: 21.5});

// 150 kHz annotation
eg.append("line").attr("x1", 202).attr("y1", 1327).attr("x2", fx(150e3) + 2).attr("y2", eBottom - 1)
    .attr("stroke", "#000").attr("stroke-width", 1.4).attr("marker-end", "url(#arrow)");
label(203, 1335, [{t: "150 kHz"}], {anchor: "start"});

label(557, 1444, [{t: "((b)) EMC compliance test results according to CISPR 25."}], {font: sans, size: 21});

// ---------------- legend ----------------
const lg = svg.append("g");
lg.append("rect").attr("x", 69).attr("y", 1462).attr("width", 953).attr("height", 41)
    .attr("fill", "#fff").attr("stroke", "#000").attr("stroke-width", 1.5);
const legendItems = [
    {color: red, x: 90},
    {color: blue, x: 301},
    {color: orange, x: 606},
    {color: "#000", x: 917, dash: "4,2.5"}
];
legendItems.forEach(d => {
    lg.append("line").attr("x1", d.x).attr("x2", d.x + (d.dash ? 33 : 45)).attr("y1", 1482).attr("y2", 1482)
        .attr("stroke", d.color).attr("stroke-width", 3.5).attr("stroke-dasharray", d.dash || null);
});
label(149, 1489, [{t: "uncontrolled"}], {anchor: "start", font: sans, size: 22});
const slewParts = v => [{t: "v", i: 1}, {t: "dsp,max", i: 1, sub: 1, ss: 0.75}, {t: "=", dx: 11}, {t: v, dx: 11}, {t: "mV", dx: 5}, {t: "/"}, {t: "μ", i: 1}, {t: "s"}];
label(357, 1488, slewParts("700"), {anchor: "start", size: 22});
label(662, 1488, slewParts("850"), {anchor: "start", size: 22});
label(971, 1488, [{t: "v", i: 1}, {t: "d", i: 1, sup: 1}, {t: "ds", i: 1, sub: 1, dx: -7}], {anchor: "start", size: 22});
</script>
</body>
</html>
